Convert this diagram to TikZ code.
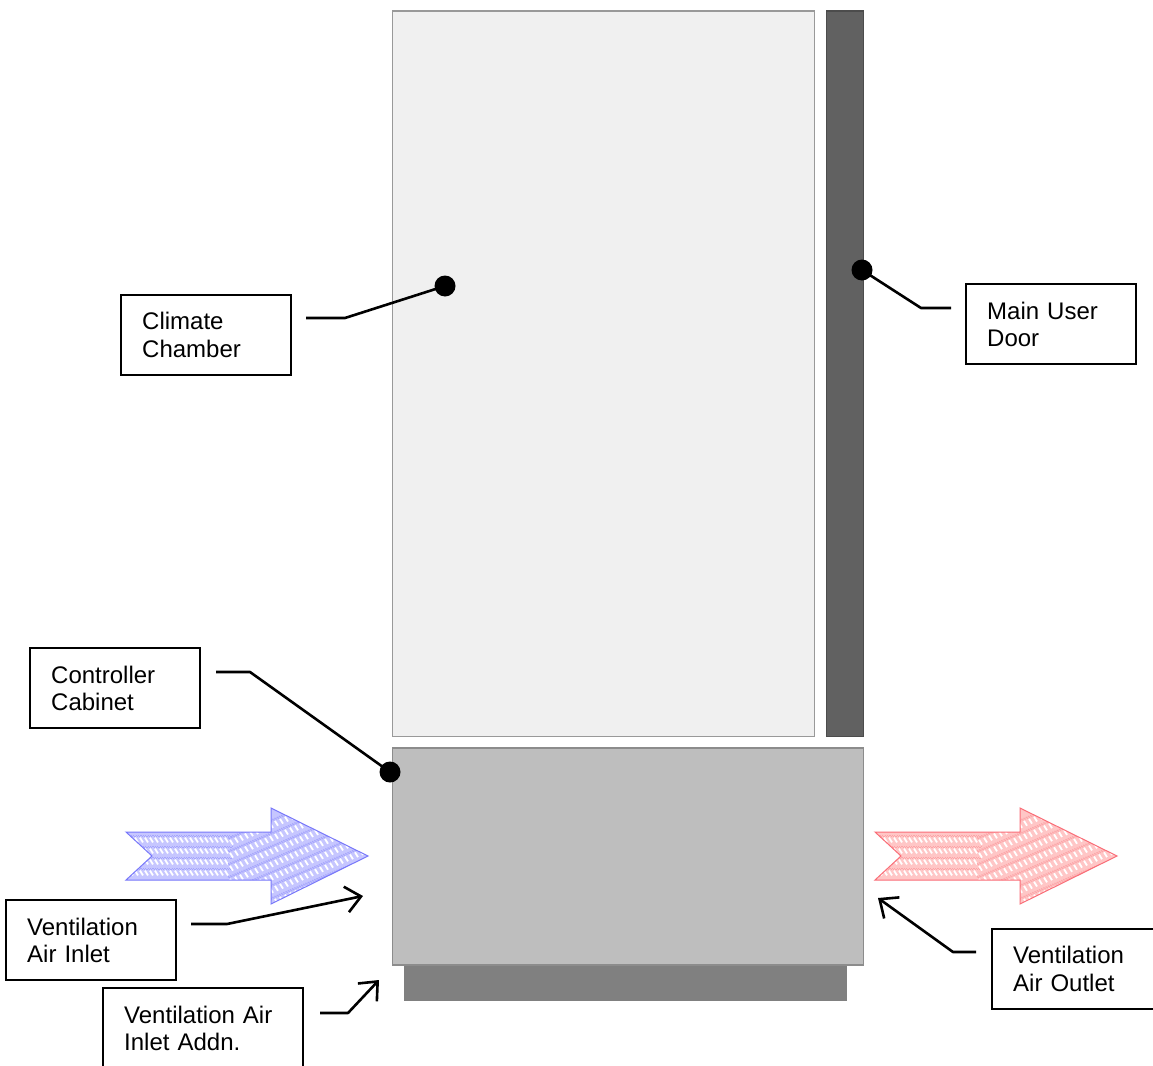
\documentclass[tikz,border=0pt]{standalone}
\usepackage{fontspec}
\setmainfont{Liberation Sans}
\usetikzlibrary{arrows.meta}
\tikzset{
  x=1pt,y=-1pt,
  label box/.style={draw=black,line width=2.4pt,fill=white,anchor=north west,minimum height=80pt,
    inner xsep=21pt,inner ysep=0pt,align=left,font=\fontsize{24pt}{27.5pt}\selectfont},
  part/.style={line width=1.4pt},
  dot/.style={circle,fill=black,inner sep=0pt,minimum size=21pt},
  leader/.style={line width=2.6pt,line join=round},
  pointer/.style={leader,-{Straight Barb[length=15pt,width=26pt,line width=2.6pt]}},
  checker/.style={line width=1.2pt,dash pattern=on 1.2pt off 1.2pt},
}
\definecolor{blueBase}{RGB}{198,198,255}
\definecolor{blueEdge}{RGB}{120,120,250}
\definecolor{blueChk}{RGB}{165,165,252}
\definecolor{redBase}{RGB}{255,198,198}
\definecolor{redEdge}{RGB}{250,110,120}
\definecolor{redChk}{RGB}{252,165,168}
\newcommand{\airshape}{(126,832) -- (271,832) -- (271,808) -- (368,856) -- (271,904) -- (271,880) -- (126,880) -- (152,856) -- cycle}
\newcommand{\airarrow}[4]{%
  \begin{scope}[shift={(#1,0)}]
    \fill[#2] \airshape;
    \begin{scope}
      \clip \airshape;
      % tail rows
      \foreach \ry in {840,851,862,873}{
        \draw[#4,checker] (126,\ry-4.6) -- (232,\ry-4.6);
        \draw[#4,checker,dash phase=1.2pt] (126,\ry-3.4) -- (232,\ry-3.4);
        \foreach \rx in {130,135,...,228}{
          \draw[white,line width=1.8pt] (\rx,\ry-2.4) -- (\rx+3,\ry+2.4);
        }
      }
      % head rows, rising to the right
      \foreach \rr in {-39,-26,-13,0,13,26,39,52}{
        \draw[#4,checker] (228,{856+\rr+26.04-5}) -- (368,{856+\rr-32.76-5});
        \draw[#4,checker,dash phase=1.2pt] (228,{856+\rr+26.04-3.8}) -- (368,{856+\rr-32.76-3.8});
        \foreach \rx in {230,235,...,366}{
          \draw[white,line width=1.8pt] (\rx,{856+\rr-(\rx-290)*0.42-2.4}) -- (\rx+3,{856+\rr-(\rx-290)*0.42+2.4});
        }
      }
    \end{scope}
    \draw[#3,line width=1pt,line join=miter] \airshape;
  \end{scope}}
\begin{document}
\begin{tikzpicture}
\useasboundingbox (0,0) rectangle (1153,1065);
\fill[white] (0,0) rectangle (1153,1065);
% equipment
\draw[part,draw=black!40,fill=black!6] (392.5,11) rectangle (814.5,736.5);
\draw[part,draw=black!70,fill=black!62] (826.5,11) rectangle (863.5,736.5);
\draw[part,draw=black!50,fill=black!50] (404.5,965) rectangle (846.5,1000.5);
\draw[part,draw=black!45,fill=black!25.5] (392.5,748) rectangle (863.5,965);
% air arrows
\airarrow{0}{blueBase}{blueEdge}{blueChk}
\airarrow{749}{redBase}{redEdge}{redChk}
% labels
\node[label box,text width=128pt] (climate) at (120,293.5) {Climate\\Chamber};
\node[label box,text width=128pt] (door) at (965,283) {Main User\\Door};
\node[label box,text width=128pt] (controller) at (29,647) {Controller\\Cabinet};
\node[label box,text width=128pt] (inlet) at (5,899) {Ventilation\\Air Inlet};
\node[label box,text width=158pt] (addn) at (102,987) {Ventilation Air\\Inlet Addn.};
\node[label box,text width=128pt] (outlet) at (991,927.5) {Ventilation\\Air Outlet};
% dots
\node[dot] (climateDot) at (445,286) {};
\node[dot] (doorDot) at (862,270) {};
\node[dot] (controllerDot) at (390,772) {};
% free ends
\coordinate (c1) at (306,318);
\coordinate (c2) at (345,318);
\coordinate (d1) at (951,308);
\coordinate (d2) at (921,308);
\coordinate (k1) at (216,672);
\coordinate (k2) at (250,672);
\coordinate (i1) at (191,924);
\coordinate (i2) at (227,924);
\coordinate (i3) at (363,896);
\coordinate (a1) at (320,1013);
\coordinate (a2) at (348,1013);
\coordinate (a3) at (379,980);
\coordinate (o1) at (976,952);
\coordinate (o2) at (953,952);
\coordinate (o3) at (878,898);
% connectors
\draw[leader] (c1) -- (c2) -- (climateDot.center);
\draw[leader] (d1) -- (d2) -- (doorDot.center);
\draw[leader] (k1) -- (k2) -- (controllerDot.center);
\draw[pointer] (i1) -- (i2) -- (i3);
\draw[pointer] (a1) -- (a2) -- (a3);
\draw[pointer] (o1) -- (o2) -- (o3);
\end{tikzpicture}
\end{document}
